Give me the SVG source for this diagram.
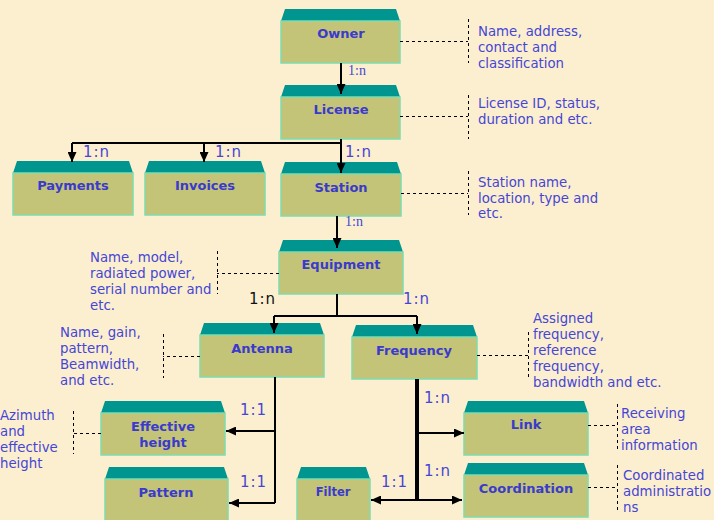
<svg xmlns="http://www.w3.org/2000/svg" width="714" height="520" viewBox="0 0 714 520">
<style>
.top{fill:#00968f}
.body{fill:#c3c477;stroke:#7fdcb0;stroke-width:1.5}
.lbl{font-family:"DejaVu Sans",Verdana,sans-serif;font-weight:bold;font-size:13px;fill:#3a3acc;text-anchor:middle}
.note{font-family:"DejaVu Sans",Verdana,sans-serif;font-size:13.3px;fill:#4646d6}
.card{font-family:"DejaVu Sans",Verdana,sans-serif;font-size:15px;fill:#4646d6;letter-spacing:1px}
.cardk{font-family:"DejaVu Sans",Verdana,sans-serif;font-size:15px;fill:#111;letter-spacing:1px}
.cards{font-family:"Liberation Serif","Times New Roman",serif;font-size:14px;fill:#4646d6}
.ln{stroke:#000;stroke-width:2;fill:none}
.arr{stroke:#000;stroke-width:2;fill:none;marker-end:url(#ah)}
.dash{stroke:#000;stroke-width:1;stroke-dasharray:3,3;fill:none}
</style>
<defs>
<marker id="ah" markerUnits="userSpaceOnUse" markerWidth="10" markerHeight="9" refX="10" refY="4.5" orient="auto">
<path d="M0,0 L10,4.5 L0,9 z" fill="#000"/>
</marker>
</defs>
<rect x="0" y="0" width="714" height="520" fill="#fbefcf"/>

<g id="owner">
<polygon class="top" points="281,21 285,9 396,9 400,21"/>
<rect class="body" x="281" y="21" width="119" height="42"/>
<text class="lbl" x="341" y="38">Owner</text>
</g>
<g id="license">
<polygon class="top" points="281,97 285,85 396,85 400,97"/>
<rect class="body" x="281" y="97" width="119" height="42"/>
<text class="lbl" x="341" y="114">License</text>
</g>
<g id="payments">
<polygon class="top" points="13,173 17,161 129,161 133,173"/>
<rect class="body" x="13" y="173" width="120" height="42"/>
<text class="lbl" x="73" y="190">Payments</text>
</g>
<g id="invoices">
<polygon class="top" points="145,173 149,161 261,161 265,173"/>
<rect class="body" x="145" y="173" width="120" height="42"/>
<text class="lbl" x="205" y="190">Invoices</text>
</g>
<g id="station">
<polygon class="top" points="281,174 285,162 397,162 401,174"/>
<rect class="body" x="281" y="174" width="120" height="42"/>
<text class="lbl" x="341" y="192">Station</text>
</g>
<g id="equipment">
<polygon class="top" points="279,252 283,240 399,240 403,252"/>
<rect class="body" x="279" y="252" width="124" height="42"/>
<text class="lbl" x="341" y="269">Equipment</text>
</g>
<g id="antenna">
<polygon class="top" points="200,335 204,323 320,323 324,335"/>
<rect class="body" x="200" y="335" width="124" height="42"/>
<text class="lbl" x="262" y="353">Antenna</text>
</g>
<g id="frequency">
<polygon class="top" points="352,337 356,325 473,325 477,337"/>
<rect class="body" x="352" y="337" width="125" height="42"/>
<text class="lbl" x="414" y="355">Frequency</text>
</g>
<g id="effective-height">
<polygon class="top" points="101,413 105,401 221,401 225,413"/>
<rect class="body" x="101" y="413" width="124" height="42"/>
<text class="lbl" x="163" y="431">Effective</text>
<text class="lbl" x="163" y="447">height</text>
</g>
<g id="pattern">
<polygon class="top" points="105,479 109,467 224,467 228,479"/>
<rect class="body" x="105" y="479" width="123" height="42"/>
<text class="lbl" x="166" y="497">Pattern</text>
</g>
<g id="filter">
<polygon class="top" points="297,479 301,467 366,467 370,479"/>
<rect class="body" x="297" y="479" width="73" height="42"/>
<text class="lbl" x="333" y="496" style="font-size:11.5px">Filter</text>
</g>
<g id="link">
<polygon class="top" points="464,413 468,401 584,401 588,413"/>
<rect class="body" x="464" y="413" width="124" height="42"/>
<text class="lbl" x="526" y="429">Link</text>
</g>
<g id="coordination">
<polygon class="top" points="464,475 468,463 584,463 588,475"/>
<rect class="body" x="464" y="475" width="124" height="42"/>
<text class="lbl" x="526" y="493">Coordination</text>
</g>

<g id="connectors">
<line class="arr" x1="341" y1="63" x2="341" y2="94"/>
<line class="ln" x1="341" y1="139" x2="341" y2="143"/>
<line class="ln" x1="72" y1="143" x2="341" y2="143"/>
<line class="arr" x1="72" y1="143" x2="72" y2="162"/>
<line class="arr" x1="204" y1="143" x2="204" y2="162"/>
<line class="arr" x1="341" y1="143" x2="341" y2="173"/>
<line class="arr" x1="337" y1="216" x2="337" y2="248"/>
<line class="ln" x1="337" y1="294" x2="337" y2="316"/>
<line class="ln" x1="274" y1="316" x2="417" y2="316"/>
<line class="arr" x1="274" y1="316" x2="274" y2="333"/>
<line class="arr" x1="417" y1="316" x2="417" y2="334"/>
<line class="ln" x1="275" y1="377" x2="275" y2="503"/>
<line class="arr" x1="275" y1="431" x2="226" y2="431"/>
<line class="arr" x1="275" y1="503" x2="229" y2="503"/>
<line class="ln" x1="417" y1="379" x2="417" y2="501" style="stroke-width:4"/>
<line class="arr" x1="417" y1="433" x2="464" y2="433"/>
<line class="arr" x1="417" y1="500" x2="462" y2="500"/>
<line class="arr" x1="417" y1="500" x2="371" y2="500"/>

<line class="dash" x1="400" y1="41.5" x2="468" y2="41.5"/>
<line class="dash" x1="468.5" y1="19" x2="468.5" y2="63"/>
<line class="dash" x1="400" y1="116.5" x2="468" y2="116.5"/>
<line class="dash" x1="468.5" y1="95" x2="468.5" y2="139"/>
<line class="dash" x1="401" y1="193.5" x2="468" y2="193.5"/>
<line class="dash" x1="468.5" y1="171" x2="468.5" y2="215"/>
<line class="dash" x1="279" y1="273.5" x2="217" y2="273.5"/>
<line class="dash" x1="217.5" y1="251" x2="217.5" y2="294"/>
<line class="dash" x1="200" y1="356.5" x2="163" y2="356.5"/>
<line class="dash" x1="163.5" y1="334" x2="163.5" y2="378"/>
<line class="dash" x1="477" y1="355.5" x2="528" y2="355.5"/>
<line class="dash" x1="528.5" y1="332" x2="528.5" y2="377"/>
<line class="dash" x1="101" y1="433.5" x2="73" y2="433.5"/>
<line class="dash" x1="73.5" y1="411" x2="73.5" y2="454"/>
<line class="dash" x1="588" y1="425.5" x2="617" y2="425.5"/>
<line class="dash" x1="617.5" y1="404" x2="617.5" y2="452"/>
<line class="dash" x1="588" y1="487.5" x2="617" y2="487.5"/>
<line class="dash" x1="617.5" y1="465" x2="617.5" y2="510"/>

<text class="cards" x="348" y="75">1:n</text>
<text class="card" x="83" y="157">1:n</text>
<text class="card" x="215" y="157">1:n</text>
<text class="card" x="345" y="157">1:n</text>
<text class="cards" x="345" y="226">1:n</text>
<text class="cardk" x="249" y="304">1:n</text>
<text class="card" x="403" y="304">1:n</text>
<text class="card" x="240" y="415">1:1</text>
<text class="card" x="240" y="487">1:1</text>
<text class="card" x="424" y="403">1:n</text>
<text class="card" x="424" y="476">1:n</text>
<text class="card" x="381" y="487">1:1</text>
</g>

<g id="notes">
<text class="note" x="478" y="36">Name, address,</text>
<text class="note" x="478" y="52">contact and</text>
<text class="note" x="478" y="68">classification</text>
<text class="note" x="478" y="108">License ID, status,</text>
<text class="note" x="478" y="124">duration and etc.</text>
<text class="note" x="478" y="187">Station name,</text>
<text class="note" x="478" y="203">location, type and</text>
<text class="note" x="478" y="218">etc.</text>
<text class="note" x="90" y="262">Name, model,</text>
<text class="note" x="90" y="278">radiated power,</text>
<text class="note" x="90" y="294">serial number and</text>
<text class="note" x="90" y="310">etc.</text>
<text class="note" x="60" y="337">Name, gain,</text>
<text class="note" x="60" y="353">pattern,</text>
<text class="note" x="60" y="369">Beamwidth,</text>
<text class="note" x="60" y="385">and etc.</text>
<text class="note" x="533" y="323">Assigned</text>
<text class="note" x="533" y="339">frequency,</text>
<text class="note" x="533" y="355">reference</text>
<text class="note" x="533" y="371">frequency,</text>
<text class="note" x="533" y="387">bandwidth and etc.</text>
<text class="note" x="0" y="420">Azimuth</text>
<text class="note" x="0" y="436">and</text>
<text class="note" x="0" y="452">effective</text>
<text class="note" x="0" y="468">height</text>
<text class="note" x="621" y="418">Receiving</text>
<text class="note" x="621" y="434">area</text>
<text class="note" x="621" y="450">information</text>
<text class="note" x="623" y="480">Coordinated</text>
<text class="note" x="623" y="496">administratio</text>
<text class="note" x="623" y="512">ns</text>
</g>
</svg>
